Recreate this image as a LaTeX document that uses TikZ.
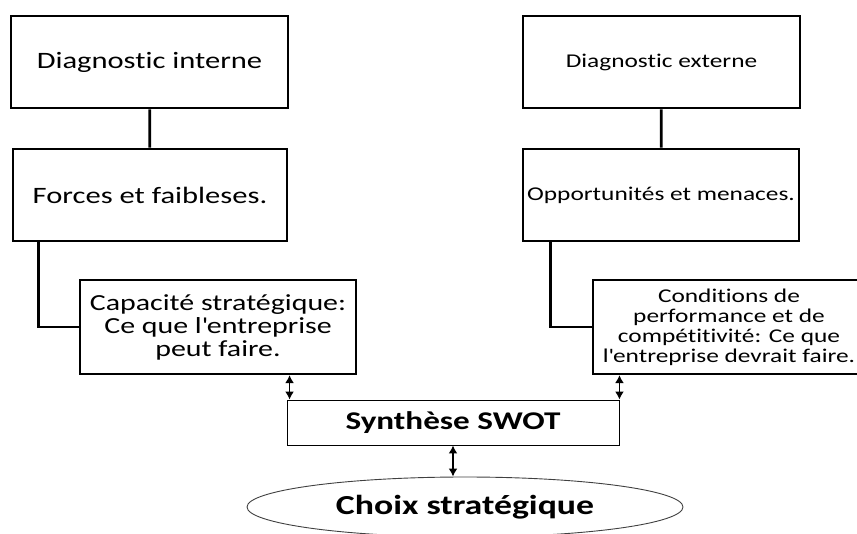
\documentclass[tikz,border=0pt]{standalone}
\usepackage{fontspec}
\setmainfont{Carlito}[FakeStretch=1.3,Ligatures={NoCommon,NoContextual}]
\usetikzlibrary{arrows.meta,shapes.geometric}

\begin{document}
\begin{tikzpicture}[x=1pt,y=-1pt,
  box/.style={draw=black,line width=2.6pt,minimum height=92pt,align=center,inner sep=2pt},
  big/.style={font=\fontsize{23.5}{23}\selectfont},
  small/.style={font=\fontsize{19.5}{20}\selectfont},
  link/.style={draw=black,line width=2.8pt},
  dbl/.style={{Latex[length=8pt,width=9pt]}-{Latex[length=8pt,width=9pt]},line width=1.6pt}]
\useasboundingbox (0,0) rectangle (857,533);
\node[box,big,minimum width=277pt] (interne) at (149.5,62) {Diagnostic interne};
\node[box,big,minimum width=274pt] (forces) at (150,195) {Forces et faibleses.};
\node[box,small,minimum width=277pt] (externe) at (661.5,62) {Diagnostic externe};
\node[box,small,minimum width=276pt] (opport) at (661,195) {Opportunités et menaces.};
\node[box,line width=2.2pt,minimum width=276pt,minimum height=94pt,font=\fontsize{23}{23}\selectfont] (capacite) at (218,327) {Capacité stratégique:\\Ce que l\textquotesingle entreprise\\peut faire.};
\node[box,small,line width=2.2pt,minimum width=272pt,minimum height=94pt] (conditions) at (729,327) {Conditions de\\performance et de\\compétitivité: Ce que\\l\textquotesingle entreprise devrait faire.};
\node[draw=black,line width=.9pt,minimum width=332pt,minimum height=45pt,font=\bfseries\fontsize{25.5}{26}\selectfont] (swot) at (453,422.5) {Synthèse SWOT};
\node[ellipse,draw=black!75,line width=.9pt,minimum width=436pt,minimum height=60pt,inner sep=0pt,font=\bfseries\fontsize{27.5}{28}\selectfont] (choix) at (465,507) {Choix stratégique};
\draw[link] (interne)--(forces);
\draw[link] (externe)--(opport);
\draw[link] ([xshift=27pt]forces.south west) |- (capacite.west);
\draw[link] ([xshift=29pt]opport.south west) |- (conditions.west);
\draw[dbl] ([xshift=3pt]swot.north west |- capacite.south)--([xshift=3pt]swot.north west);
\draw[dbl] (swot.north east |- conditions.south)--(swot.north east);
\draw[dbl] (swot.south)--(swot.south |- choix.north);
\end{tikzpicture}
\end{document}
